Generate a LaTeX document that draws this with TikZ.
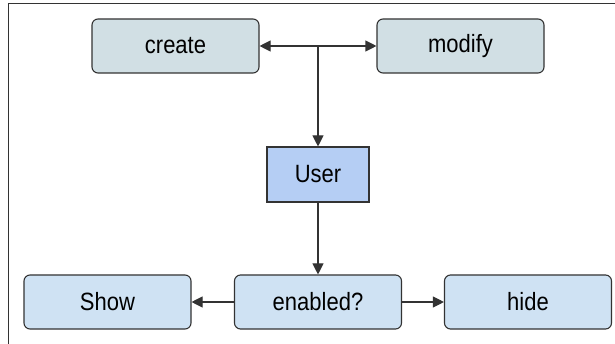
\documentclass[tikz,border=0pt]{standalone}
\usepackage{fontspec}
\setmainfont{Liberation Sans}[FakeStretch=0.88]
\usetikzlibrary{arrows.meta}
\definecolor{topfill}{HTML}{D1DFE4}
\definecolor{userfill}{HTML}{B5CEF4}
\definecolor{botfill}{HTML}{CFE2F3}
\definecolor{edge}{HTML}{333333}
\begin{document}
\begin{tikzpicture}[>={Triangle[length=11pt,width=11pt]}, x=1pt, y=-1pt,
  box/.style={draw=edge, line width=1.1pt, rounded corners=6pt, minimum width=167pt, minimum height=54pt, font=\fontsize{25}{29}\selectfont},
  userbox/.style={draw=edge, line width=1.1pt, fill=userfill, minimum width=102pt, minimum height=55pt, font=\fontsize{25}{29}\selectfont},
  link/.style={draw=edge, line width=1.1pt}]
\useasboundingbox (0,0) rectangle (615,344);
\draw[line width=1pt, edge](8,350)--(8,4)--(620,4);
\node[box, fill=topfill] (create) at (175.5,46) {create};
\node[box, fill=topfill] (modify) at (460.5,46) {modify};
\node[userbox] (user) at (318,174.5) {User};
\node[box, fill=botfill] (show) at (107.5,302) {Show};
\node[box, fill=botfill] (enabled) at (318,302) {enabled?};
\node[box, fill=botfill] (hide) at (528,302) {hide};
\coordinate (split) at (user.north |- create.east);
\draw[link,<->](create)--(modify);
\draw[link,->](split)--(user);
\draw[link,->](user)--(enabled);
\draw[link,->](enabled)--(show);
\draw[link,->](enabled)--(hide);

\end{tikzpicture}
\end{document}
